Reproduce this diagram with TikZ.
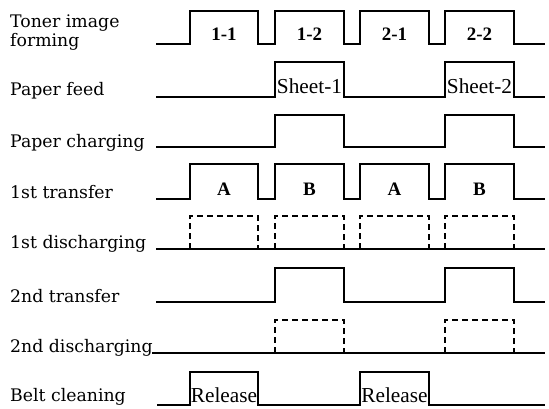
\documentclass[tikz,border=0pt]{standalone}
\usepackage{fontspec}
\setmainfont{DejaVu Serif}
\newfontfamily\timesf{Liberation Serif}
\begin{document}
\begin{tikzpicture}[x=1pt,y=-1pt,
  sig/.style={line width=1.5pt, line join=miter},
  dashsig/.style={line width=1.5pt, dash pattern=on 6pt off 4pt},
  lbl/.style={inner sep=0pt, anchor=base west, font=\fontsize{17.3}{20}\selectfont},
  plbl/.style={inner sep=0pt, anchor=base, font=\timesf\bfseries\fontsize{19}{22}\selectfont},
  wlbl/.style={inner sep=0pt, anchor=base, font=\timesf\fontsize{21.3}{24}\selectfont}]
\useasboundingbox (0,0) rectangle (549,408);

% row labels
\node[lbl] (toner)  at (10,27)  {Toner image};
\node[lbl] (toner2) at (10,46)  {forming};
\node[lbl] (feed)   at (10,95)  {Paper feed};
\node[lbl] (charge) at (10,147) {Paper charging};
\node[lbl] (tr1)    at (10,198) {1st transfer};
\node[lbl] (dis1)   at (10,248) {1st discharging};
\node[lbl] (tr2)    at (10,302) {2nd transfer};
\node[lbl] (dis2)   at (10,352) {2nd discharging};
\node[lbl] (belt)   at (10,401) {Belt cleaning};

% toner image forming
\draw[sig] (156,44) -| (190,11) -| (258,44) -| (275,11) -| (344,44)
  -| (360,11) -| (429,44) -| (445,11) -| (514,44) -- (545,44);
\node[plbl] (t11) at (224,40)   {1-1};
\node[plbl] (t12) at (309.5,40) {1-2};
\node[plbl] (t21) at (394.5,40) {2-1};
\node[plbl] (t22) at (479.5,40) {2-2};

% paper feed
\draw[sig] (156,97) -| (275,62) -| (344,97) -| (445,62) -| (514,97) -- (545,97);
\node[wlbl] (s1) at (309.5,93) {Sheet-1};
\node[wlbl] (s2) at (479.5,93) {Sheet-2};

% paper charging
\draw[sig] (156,147) -| (275,115) -| (344,147) -| (445,115) -| (514,147) -- (545,147);

% 1st transfer
\draw[sig] (156,199) -| (190,164) -| (258,199) -| (275,164) -| (344,199)
  -| (360,164) -| (429,199) -| (445,164) -| (514,199) -- (545,199);
\node[plbl] (a1) at (224,195)   {A};
\node[plbl] (b1) at (309.5,195) {B};
\node[plbl] (a2) at (394.5,195) {A};
\node[plbl] (b2) at (479.5,195) {B};

% 1st discharging
\draw[sig] (156,249) -- (545,249);
\foreach \a/\b in {190/258, 275/344, 360/429, 445/514}
  \draw[dashsig] (\a,249) -- (\a,216) -- (\b,216) -- (\b,249);

% 2nd transfer
\draw[sig] (156,302) -| (275,268) -| (344,302) -| (445,268) -| (514,302) -- (545,302);

% 2nd discharging
\draw[sig] (152,353) -- (545,353);
\foreach \a/\b in {275/344, 445/514}
  \draw[dashsig] (\a,353) -- (\a,320) -- (\b,320) -- (\b,353);

% belt cleaning
\draw[sig] (157,405) -| (190,372) -| (258,405) -| (360,372) -| (429,405) -- (545,405);
\node[wlbl] (r1) at (224,402)   {Release};
\node[wlbl] (r2) at (394.5,402) {Release};
\end{tikzpicture}
\end{document}
